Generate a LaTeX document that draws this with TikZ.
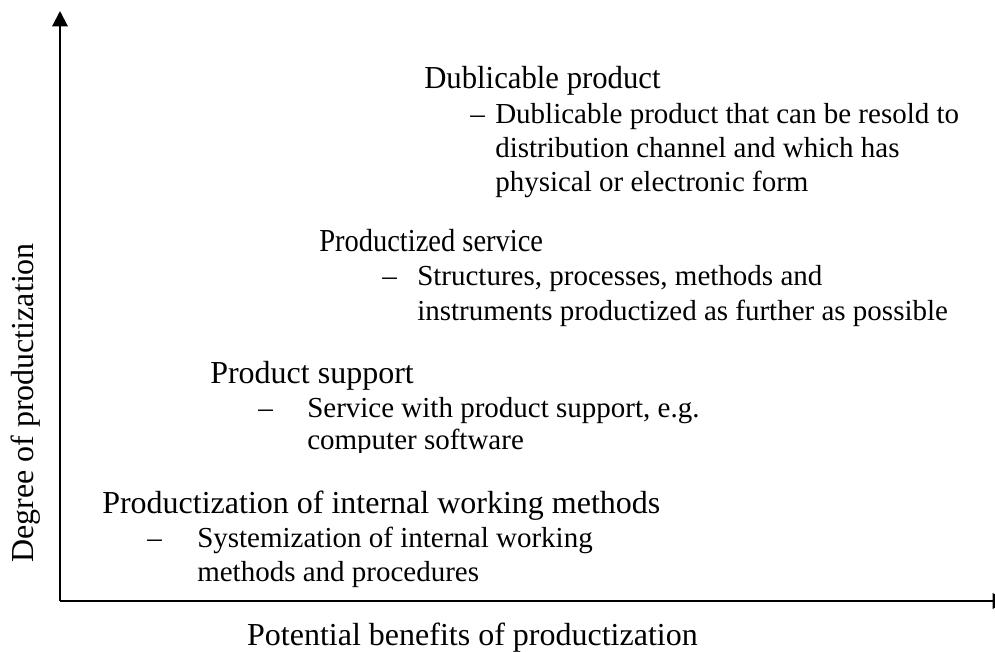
\documentclass[tikz,border=0pt]{standalone}
\usepackage{fontspec}
\setmainfont{Liberation Serif}
\usetikzlibrary{arrows.meta}
\tikzset{
  head/.style={anchor=base west, inner sep=0pt, font=\fontsize{24}{28}\selectfont},
  bodytxt/.style={anchor=base west, inner sep=0pt, font=\fontsize{21.75}{25.5}\selectfont},
  axislbl/.style={inner sep=0pt, font=\fontsize{24}{28}\selectfont},
  axisline/.style={line width=1.5pt, -{Triangle[width=11.5pt,length=11.5pt]}}
}
\begin{document}
\begin{tikzpicture}[x=0.75pt,y=-0.75pt]
\useasboundingbox (0,0) rectangle (995,652);
\clip (0,0) rectangle (995,652);
% axes
\coordinate (O) at (60,601);
\coordinate (Ytop) at (60,11);
\coordinate (Xend) at (1008,601);
\draw[axisline] (O) -- (Ytop);
\draw[axisline] (O) -- (Xend);
\node[axislbl, anchor=base east] (xl) at (698,645) {Potential benefits of productization};
\node[axislbl, anchor=base, rotate=90] (yl) at (33,403) {Degree of productization};
% block 1
\node[head] (h1) at (424,89) {\scalebox{0.96}[1]{Dublicable product}};
\node[bodytxt] (d1) at (470,124) {–};
\node[bodytxt] (b1a) at (495,124) {Dublicable product that can be resold to};
\node[bodytxt] (b1b) at (495,158) {distribution channel and which has};
\node[bodytxt] (b1c) at (495,192) {physical or electronic form};
% block 2
\node[head] (h2) at (319,252) {\scalebox{0.89}[1]{Productized service}};
\node[bodytxt] (d2) at (382,286) {–};
\node[bodytxt] (b2a) at (417,286) {Structures, processes, methods and};
\node[bodytxt] (b2b) at (417,320) {instruments productized as further as possible};
% block 3
\node[head] (h3) at (210,383) {Product support};
\node[bodytxt] (d3) at (258,417) {–};
\node[bodytxt] (b3a) at (307,417) {Service with product support, e.g.};
\begin{scope}
\clip (0,0) rectangle (995,452);
\node[bodytxt] (b3b) at (307,449) {computer software};
\end{scope}
% block 4
\node[head] (h4) at (102,513) {Productization of internal working methods};
\node[bodytxt] (d4) at (147,547) {–};
\node[bodytxt] (b4a) at (197,547) {Systemization of internal working};
\node[bodytxt] (b4b) at (197,581) {methods and procedures};
\end{tikzpicture}
\end{document}
